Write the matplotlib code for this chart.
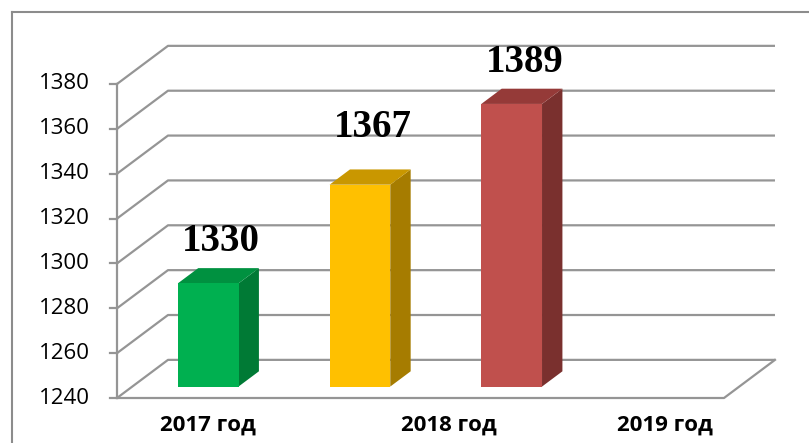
import numpy as np
import matplotlib.pyplot as plt
from matplotlib.patches import Polygon
from matplotlib.lines import Line2D

# data
years = ["2017 год", "2018 год", "2019 год"]
bar_values = [1286, 1330, 1366]          # heights as drawn against the axis
bar_labels = ["1330", "1367", "1389"]    # numbers printed above the bars
y_ticks = np.arange(1240, 1381, 20)
n_slots = 4                              # last slot (2019) is empty

front_c = ["#00B050", "#FFC000", "#C0504D"]
top_c = ["#009140", "#C99700", "#953A38"]
side_c = ["#007A35", "#A67C00", "#7A302E"]
grid_c = "#959595"

# fake 3-D: point at depth d (0 = front, 1 = back wall) is shifted by (DX*d, DY*d)
DX, DY = 0.336, 17.0
D0, D1 = 0.3, 0.7      # bar depth span
BW = 0.4               # bar width in slots
label_lift = [6, 13, 6]  # gap between bar top and its label (value units)


def proj(x, v, d):
    return x + DX * d, v + DY * d


fig = plt.figure(figsize=(8.09, 4.43), dpi=100)
ax = fig.add_axes([0, 0, 1, 1])
ax.set_xlim(-117 / 151.75, (809 - 117) / 151.75)
ax.set_ylim(1240 - 45 / 2.243, 1240 + 398 / 2.243)
ax.axis("off")

# chart frame
fig.add_artist(Line2D([12 / 809, 12 / 809], [0, 1 - 12 / 443], color="#8c8c8c", lw=1.5))
fig.add_artist(Line2D([12 / 809, 1], [1 - 12 / 443, 1 - 12 / 443], color="#8c8c8c", lw=1.5))

ymin = y_ticks[0]
# gridlines on side and back wall
for v in y_ticks:
    xs, ys = zip(proj(0, v, 0), proj(0, v, 1), proj(n_slots, v, 1))
    ax.plot(xs, ys, color=grid_c, lw=1.6, zorder=1, solid_capstyle="butt")
    ax.plot([-0.046, 0], [v, v], color=grid_c, lw=1.6, zorder=1)
    ax.text(-0.178, v, str(v), ha="right", va="center", fontsize=16, family="Open Sans")
# floor front edge and right edge, front axis
xs, ys = zip(proj(0, ymin, 0), proj(n_slots, ymin, 0), proj(n_slots, ymin, 1))
ax.plot(xs, ys, color=grid_c, lw=1.6, zorder=1)
ax.plot([0, 0], [ymin, y_ticks[-1]], color=grid_c, lw=1.6, zorder=1)

for i, (val, lab) in enumerate(zip(bar_values, bar_labels)):
    x0 = i + 0.5 - BW / 2
    x1 = i + 0.5 + BW / 2
    fr = [proj(x0, ymin, D0), proj(x1, ymin, D0), proj(x1, val, D0), proj(x0, val, D0)]
    tp = [proj(x0, val, D0), proj(x1, val, D0), proj(x1, val, D1), proj(x0, val, D1)]
    sd = [proj(x1, ymin, D0), proj(x1, ymin, D1), proj(x1, val, D1), proj(x1, val, D0)]
    ax.add_patch(Polygon(sd, closed=True, fc=side_c[i], ec="none", zorder=3))
    ax.add_patch(Polygon(tp, closed=True, fc=top_c[i], ec="none", zorder=3))
    ax.add_patch(Polygon(fr, closed=True, fc=front_c[i], ec="none", zorder=4))
    lx, ly = proj(i + 0.5, val, 0.55)
    ax.text(lx, ly + label_lift[i], lab, ha="center", va="bottom", fontsize=28,
            family="Liberation Serif", weight="bold", zorder=5)

label_x = [0.6, 2.19, 3.61]
for x, t in zip(label_x, years):
    ax.text(x, ymin - 12, t, ha="center", va="center", fontsize=16,
            family="Open Sans", weight="bold")

fig.savefig("out.png", dpi=100)
